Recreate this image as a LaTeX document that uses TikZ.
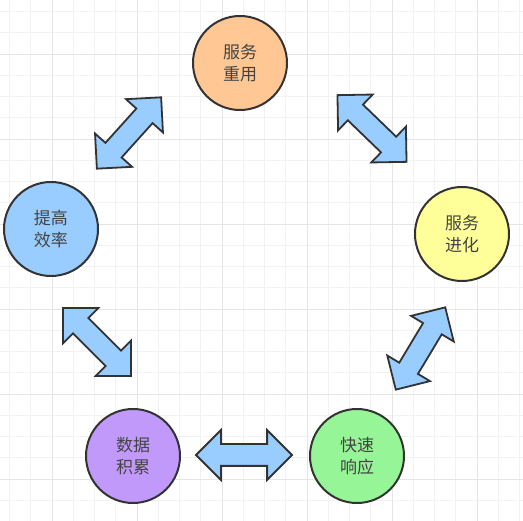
\documentclass[tikz,border=0pt]{standalone}
\usepackage{fontspec}
\setmainfont{Noto Sans CJK SC}
\usepackage{xcolor}
\usetikzlibrary{shapes.arrows}
\definecolor{darkline}{HTML}{333333}
\definecolor{textgray}{HTML}{444444}
\definecolor{arrowblue}{HTML}{99CCFF}
\definecolor{peach}{HTML}{FFC794}
\definecolor{skyblue}{HTML}{99CCFF}
\definecolor{lemon}{HTML}{FFFF99}
\definecolor{lilac}{HTML}{C199FA}
\definecolor{mint}{HTML}{96F596}

\begin{document}
\begin{tikzpicture}[x=1pt, y=-1pt,
    topic/.style={circle, draw=darkline, line width=2pt, minimum size=94pt, inner sep=0pt,
        align=center, text=textgray, font=\fontsize{17}{22}\selectfont},
    dblarr/.style={double arrow, double arrow head extend=14pt, double arrow tip angle=90,
        minimum height=96pt, inner xsep=0pt, inner ysep=10pt,
        draw=darkline, fill=arrowblue, line width=1.8pt}]
    % Paper and grid
    \useasboundingbox (0,0) rectangle (523,521);
    \fill[white] (0,0) rectangle (523,521);
    \foreach \i in {0,...,24} {
        \draw[gray!10, line width=0.8pt] ({9.5+21.25*\i},0) -- ({9.5+21.25*\i},521);
        \draw[gray!10, line width=0.8pt] (0,{11.5+21.25*\i}) -- (523,{11.5+21.25*\i});
    }
    \foreach \i in {0,...,5} {
        \draw[gray!20, line width=0.8pt] ({52+85*\i},0) -- ({52+85*\i},521);
        \draw[gray!20, line width=0.8pt] (0,{54+85*\i}) -- (523,{54+85*\i});
    }

    % The five topics
    \node[topic, fill=peach]   (reuse)  at (240,63)  {服务\\重用};
    \node[topic, fill=lemon]   (evolve) at (462,234) {服务\\进化};
    \node[topic, fill=mint]    (speed)  at (357,456) {快速\\响应};
    \node[topic, fill=lilac]   (data)   at (133,456) {数据\\积累};
    \node[topic, fill=skyblue] (effic)  at (51,229)  {提高\\效率};

    % Links between them
    \node[dblarr, rotate=48]  (effic-reuse)  at (129,133)   {};
    \node[dblarr, rotate=-44] (reuse-evolve) at (372,128.5) {};
    \node[dblarr, rotate=59]  (evolve-speed) at (420.5,348.5) {};
    \node[dblarr]             (speed-data)   at (244,455)   {};
    \node[dblarr, rotate=-45] (data-effic)   at (97,342)    {};
\end{tikzpicture}
\end{document}
